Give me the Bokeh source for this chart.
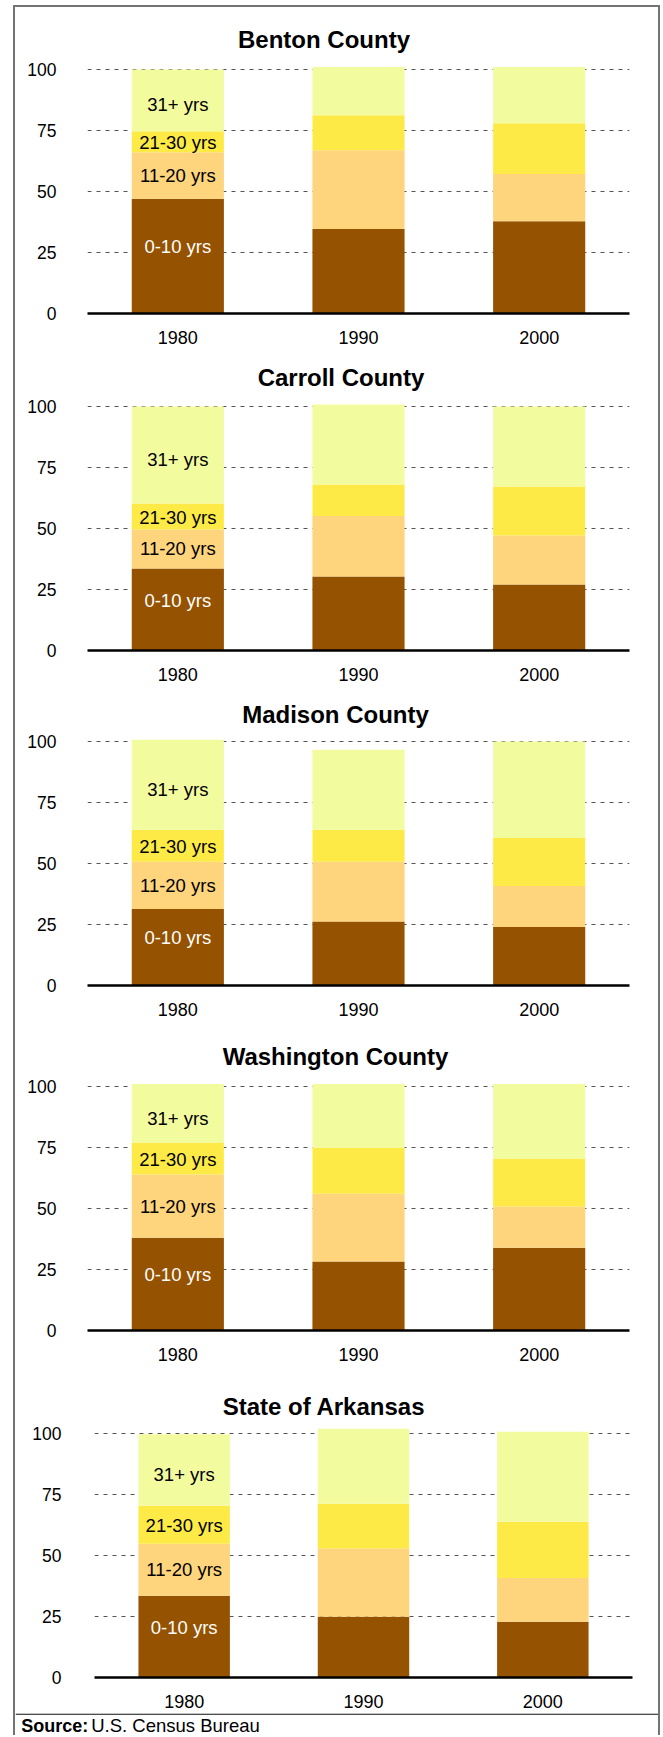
import numpy as np
from bokeh.plotting import figure
from bokeh.models import ColumnDataSource, FactorRange, Range1d, FixedTicker, Span
from bokeh.layouts import column
from bokeh.core.properties import value
from bokeh.embed import file_html
from bokeh.resources import INLINE

# ---------------- data ----------------
years = ["1980", "1990", "2000"]
bands = ["0-10 yrs", "11-20 yrs", "21-30 yrs", "31+ yrs"]
yticks = [0, 25, 50, 75, 100]
regions = ["Benton County", "Carroll County", "Madison County",
           "Washington County", "State of Arkansas"]

benton_0_10 = [47.0, 34.6, 37.8]
benton_11_20 = [19.1, 32.3, 19.4]
benton_21_30 = [8.6, 14.4, 20.8]
benton_31_plus = [25.3, 19.7, 23.0]

carroll_0_10 = [33.6, 30.3, 27.0]
carroll_11_20 = [16.0, 24.8, 20.1]
carroll_21_30 = [10.6, 12.9, 20.1]
carroll_31_plus = [39.8, 32.8, 32.8]

madison_0_10 = [31.4, 26.2, 24.0]
madison_11_20 = [19.3, 24.5, 16.8]
madison_21_30 = [13.1, 13.1, 19.7]
madison_31_plus = [36.9, 32.8, 39.5]

washington_0_10 = [38.0, 28.3, 33.9]
washington_11_20 = [25.9, 27.7, 16.9]
washington_21_30 = [12.9, 18.8, 19.5]
washington_31_plus = [24.2, 26.2, 30.7]

arkansas_0_10 = [33.5, 24.9, 22.8]
arkansas_11_20 = [21.3, 28.0, 18.0]
arkansas_21_30 = [15.6, 18.3, 23.0]
arkansas_31_plus = [29.3, 30.7, 36.9]

series = {
    "Benton County": [benton_0_10, benton_11_20, benton_21_30, benton_31_plus],
    "Carroll County": [carroll_0_10, carroll_11_20, carroll_21_30, carroll_31_plus],
    "Madison County": [madison_0_10, madison_11_20, madison_21_30, madison_31_plus],
    "Washington County": [washington_0_10, washington_11_20, washington_21_30, washington_31_plus],
    "State of Arkansas": [arkansas_0_10, arkansas_11_20, arkansas_21_30, arkansas_31_plus],
}

# ---------------- style / layout ----------------
COLORS = ["#955200", "#FED47C", "#FEEA47", "#F3FB9F"]
LABEL_COLORS = ["white", "black", "black", "black"]
LABEL_DY = [-9.5, 0, 1, 4.5]
FONT = "Liberation Sans"
PX = 2.44          # pixels per percentage point
X0, W = 15, 643    # page x of content left, content width

# top, axis, bottom, frame_left, frame_right, title_center_x, title_rise, ylabel_standoff
LAYOUT = [
    (7, 313, 355, 87, 629, 323.5, 273.8, 31),
    (355, 650, 692, 87, 629, 340.5, 273.0, 31),
    (692, 985, 1030, 87, 629, 335.0, 271.0, 31),
    (1030, 1330, 1380, 87, 629, 335.0, 273.7, 31),
    (1380, 1677, 1713, 94, 632, 323.5, 270.7, 33),
]

figs = []
for name, (top, axis_y, bottom, fl, fr, tcx, trise, ystand) in zip(regions, LAYOUT):
    vals = series[name]
    p = figure(width=W, height=bottom - top,
               x_range=FactorRange(*years),
               y_range=Range1d(0, (axis_y - top) / PX),
               output_backend="svg", toolbar_location=None,
               min_border_top=0, min_border_bottom=bottom - axis_y,
               min_border_left=fl - X0, min_border_right=X0 + W - fr,
               outline_line_color=None, background_fill_color="white",
               border_fill_color="white", frame_align=False)

    src = ColumnDataSource(dict(year=years, **{b: v for b, v in zip(bands, vals)}))
    p.vbar_stack(bands, x="year", width=0.51, fill_color=COLORS,
                 line_color=None, source=src)

    first = np.array([v[0] for v in vals])
    mids = np.cumsum(first) - first / 2
    lab = ColumnDataSource(dict(x=[years[0]] * 4, y=mids, text=bands,
                                color=LABEL_COLORS, dy=LABEL_DY))
    p.text(x="x", y="y", text="text", text_color="color", y_offset="dy",
           text_align="center", text_baseline="middle",
           text_font=value(FONT), text_font_size="18.5px", source=lab)

    p.text(x=[years[1]], y=[100], text=[name],
           x_offset=tcx - (fl + fr) / 2, y_offset=-(trise - 100 * PX),
           text_align="center", text_baseline="middle",
           text_font=value(FONT), text_font_style="bold",
           text_font_size="24px", text_color="black")

    p.yaxis.ticker = FixedTicker(ticks=yticks)
    p.yaxis.axis_line_color = None
    p.yaxis.major_tick_line_color = None
    p.yaxis.minor_tick_line_color = None
    p.yaxis.major_tick_out = 0
    p.yaxis.major_tick_in = 0
    p.yaxis.major_label_standoff = ystand
    p.yaxis.major_label_text_font = FONT
    p.yaxis.major_label_text_font_size = "17.5px"
    p.yaxis.major_label_text_color = "black"

    p.xaxis.axis_line_width = 2.5
    p.xaxis.axis_line_color = "black"
    p.xaxis.major_tick_line_color = None
    p.xaxis.minor_tick_line_color = None
    p.xaxis.major_tick_out = 0
    p.xaxis.major_tick_in = 0
    p.xaxis.major_label_standoff = 17
    p.xaxis.major_label_text_font = FONT
    p.xaxis.major_label_text_font_size = "18px"
    p.xaxis.major_label_text_color = "black"

    p.xgrid.grid_line_color = None
    p.ygrid.ticker = FixedTicker(ticks=yticks[1:])
    p.ygrid.grid_line_dash = "4 5"
    p.ygrid.grid_line_color = "#555555"
    p.ygrid.grid_line_width = 1
    figs.append(p)

# source line
s = figure(width=W, height=22, x_range=Range1d(0, W), y_range=Range1d(0, 22),
           x_axis_location=None, y_axis_location=None, min_border=0,
           outline_line_color=None, toolbar_location=None, output_backend="svg",
           background_fill_color="white", border_fill_color="white",
           frame_align=False)
s.xgrid.visible = False
s.ygrid.visible = False
s.add_layout(Span(location=21.3, dimension="width", line_color="#111111", line_width=1.2))
s.text(x=[5.7], y=[10], text=["Source:"], text_font=value(FONT), text_font_style="bold",
       text_font_size="18px", text_baseline="middle", text_color="black")
s.text(x=[75.7], y=[10], text=["U.S. Census Bureau"], text_font=value(FONT),
       text_font_size="18.5px", text_baseline="middle", text_color="black")

layout = column(*figs, s, spacing=0,
                styles={"margin": "5px 0px 0px 13px",
                        "border-left": "2px solid #747474",
                        "border-right": "2px solid #747474",
                        "border-top": "2px solid #747474"})

open("out.html", "w").write(file_html(layout, INLINE))
